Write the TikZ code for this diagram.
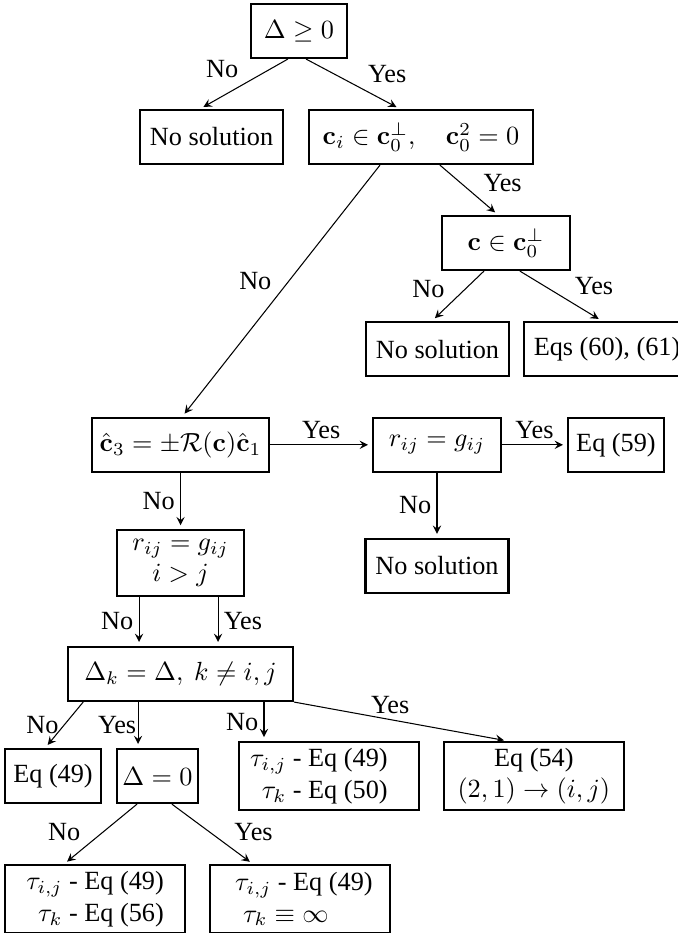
\documentclass[tikz,border=0pt]{standalone}
\usepackage[no-math]{fontspec}
\setmainfont{Liberation Serif}

\begin{document}
\begin{tikzpicture}[-,>=stealth,shorten >=1.5pt,node distance=40.4pt,
    box/.style={rectangle,draw,thick,minimum height=20.6pt,inner xsep=2pt,inner ysep=1.5pt},
    lab/.style={inner sep=2pt}]

            \useasboundingbox (-113.9pt,11.8pt) rectangle (144.4pt,-343.7pt);

            \node[box, minimum width=36.6pt] (1) []{$\Delta\geq 0$};
            \node[box, minimum width=54.5pt] (2) [below of = 1, xshift=-33.3pt]{No solution};
            \node[box, minimum width=85.3pt] (3) [below of = 1, xshift=46.5pt]{$\mathbf{c}_i\in\mathbf{c}_0^{\perp},\quad\mathbf{c}_0^2=0$};
            \node[box, minimum width=48.8pt] (4) [below of = 3, xshift=32.4pt]{$\mathbf{c}\in\mathbf{c}_0^{\perp}$};
            \node[box, minimum width=54.5pt] (5) [below of = 4, xshift=-26.1pt]{No solution};
            \node[box, minimum width=63.2pt] (6) [below of = 4, xshift=38.5pt]{Eqs (60), (61)};
            \node[box, minimum width=67.7pt] (7) [below of = 2, node distance=117.3pt, xshift=-11.8pt]{$\hat{\mathbf{c}}_3=\pm\mathcal{R}(\mathbf{c})\hat{\mathbf{c}}_1$};
            \node[box, minimum width=48.8pt] (8) [right of = 7, node distance=97.7pt]{$r_{ij}=g_{ij}$};
            \node[box, minimum width=36.6pt] (9) [right of = 8, node distance=68.2pt]{Eq (59)};
            \node[box, minimum width=54.5pt] (10) [below of = 8, node distance=46.1pt]{No solution};
            \node[box, minimum width=48.6pt, minimum height=24.9pt, align=center] (11) [below of = 7, node distance=45pt]{$r_{ij}=g_{ij}$\\$i>j$};
            \node[box, minimum width=85.7pt] (12) [below of = 11, node distance=42.3pt]{$\Delta_k=\Delta,\ k\neq i,j$};
            \node[box, minimum width=36.6pt] (13) [below of = 12, node distance=38.9pt, xshift=-48.6pt]{Eq (49)};
            \node[box, minimum width=30.9pt] (14) [right of = 13, node distance=39.8pt]{$\Delta=0$};
            \node[box, minimum width=68.6pt, minimum height=25.9pt, align=right] (15) [right of = 14, node distance=65.3pt]{$\tau_{i,j}$ - Eq (49)\rule{7.6pt}{0pt}\\$\tau_k$ - Eq (50)\rule{7.6pt}{0pt}};
            \node[box, minimum width=68.6pt, minimum height=25.9pt, align=center] (16) [right of = 15, node distance=78.1pt]{Eq (54)\\$(2,1)\rightarrow(i,j)$};
            \node[box, minimum width=68.6pt, minimum height=25.9pt, align=right] (17) [below of = 14, node distance=46.9pt, xshift=-23.8pt]{$\tau_{i,j}$ - Eq (49)\\$\tau_k$ - Eq (56)};
            \node[box, minimum width=68.6pt, minimum height=25.9pt, align=left] (18) [right of = 17, node distance=78.1pt]{\rule{3pt}{0pt}$\tau_{i,j}$ - Eq (49)\\\rule{6pt}{0pt}$\tau_k\equiv\infty$};

            \draw[->] ([xshift=-4.2pt]1.south) to node[lab, above left]{No} ([xshift=-4.4pt]2.north);
            \draw[->] ([xshift=2.7pt]1.south) to node[lab, pos=0.6, above right]{Yes} ([xshift=-8pt]3.north);
            \draw[->] ([xshift=7.2pt]3.south) to node[lab, pos=0.65, above right]{Yes} ([xshift=-3pt]4.north);
            \draw[->] ([xshift=-15.6pt]3.south) to node[lab, pos=0.52, above left]{No} ([xshift=0.6pt]7.north);
            \draw[->] ([xshift=-8.4pt]4.south) to node[lab, pos=0.65, above left]{No} ([xshift=-2.1pt]5.north);
            \draw[->] ([xshift=5.3pt]4.south) to node[lab, pos=0.6, above right]{Yes} ([xshift=-1.9pt]6.north);
            \draw[->] (7) to node[lab, above]{Yes} (8);
            \draw[->] (8) to node[lab, above]{Yes} (9);
            \draw[->] (8) to node[lab, left]{No} (10);
            \draw[->] (7) to node[lab, left]{No} (11);
            \draw[->] ([xshift=-15.8pt]11.south) to node[lab, left]{No} ([xshift=-15.8pt]11.south |- 12.north);
            \draw[->] ([xshift=14.3pt]11.south) to node[lab, right]{Yes} ([xshift=14.3pt]11.south |- 12.north);
            \draw[->] ([xshift=-37.1pt]12.south) to node[lab, left]{No} ([xshift=-3pt]13.north);
            \draw[->] ([xshift=-16.2pt]12.south) to node[lab, left, xshift=1.5pt]{Yes} ([xshift=-16.2pt]12.south |- 14.north);
            \draw[->] ([xshift=31.8pt]12.south) to node[lab, left]{No} ([xshift=31.8pt]12.south |- 15.north);
            \draw[->] (12.south east) to node[lab, pos=0.45, above]{Yes} ([xshift=-9.9pt]16.north);
            \draw[->] ([xshift=-7.8pt]14.south) to node[lab, pos=0.7, above left]{No} ([xshift=-11.8pt]17.north);
            \draw[->] ([xshift=5.5pt]14.south) to node[lab, pos=0.7, above right]{Yes} ([xshift=-17.9pt]18.north);

            ;
        \end{tikzpicture}
\end{document}
